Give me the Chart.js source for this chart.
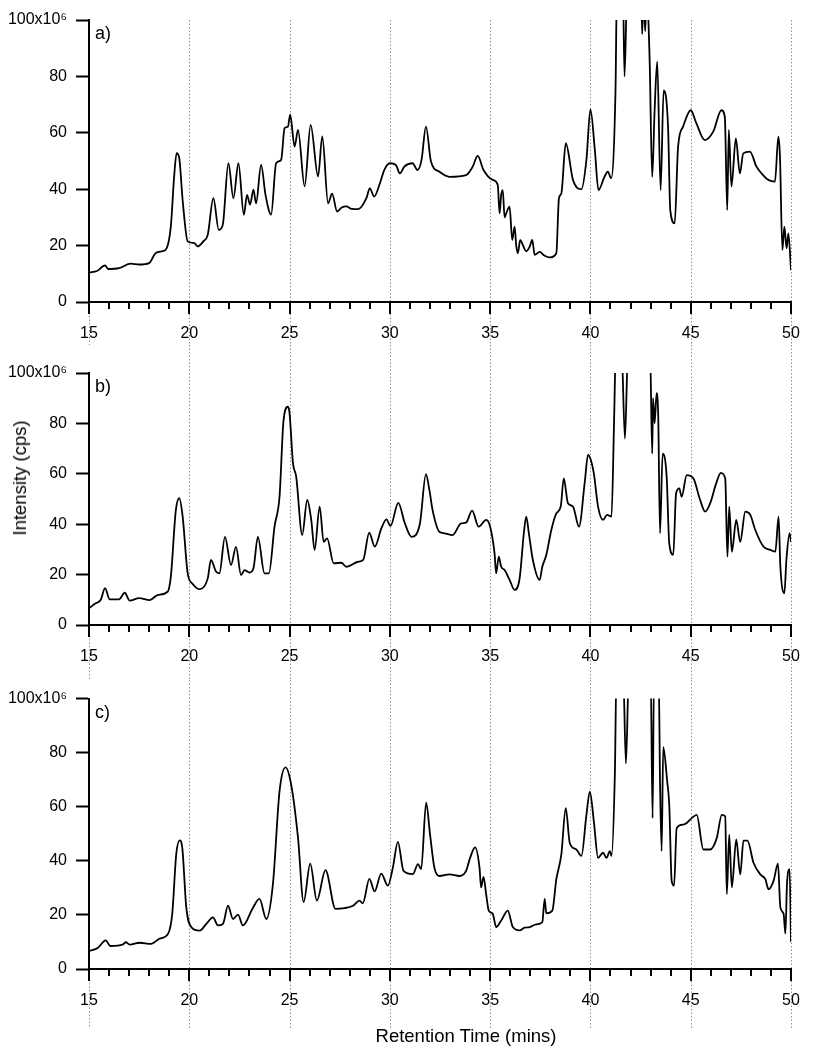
<!DOCTYPE html>
<html>
<head>
<meta charset="utf-8">
<script src="https://cdn.jsdelivr.net/npm/chart.js@4.4.0/dist/chart.umd.min.js"></script>
<style>
body { margin: 0; background: #fff; width: 829px; height: 1050px; position: relative; overflow: hidden;
       font-family: "Liberation Sans", Arial, sans-serif; color: #000; }
.panel { position: absolute; left: 0; width: 829px; }
.panel canvas { display: block; }
#ytitle { position: absolute; left: 20px; top: 478px; transform: translate(-50%, -50%) rotate(-90deg);
          white-space: nowrap; font-size: 18.5px; }
#xtitle { position: absolute; left: 466px; top: 1025px; transform: translateX(-50%);
          white-space: nowrap; font-size: 18.5px; }
</style>
</head>
<body>
<div class="panel" style="top:0px;height:345px"><canvas id="chartA" width="829" height="345"></canvas></div>
<div class="panel" style="top:345px;height:335px"><canvas id="chartB" width="829" height="335"></canvas></div>
<div class="panel" style="top:680px;height:370px"><canvas id="chartC" width="829" height="370"></canvas></div>
<div id="ytitle">Intensity (cps)</div>
<div id="xtitle">Retention Time (mins)</div>
<script>
// retention time (mins) and intensity (x10^6 cps)
// values of 110 are off the top of the axis (clipped at 100)
var timeA = [15.0,15.4,15.8,15.95,16.5,17.08,17.5,18.0,18.33,18.67,18.87,19.08,19.25,19.37,19.5,19.67,19.92,20.25,20.42,20.7,
  20.92,21.2,21.47,21.67,21.95,22.2,22.45,22.72,22.88,23.03,23.2,23.33,23.58,23.8,24.08,24.33,24.58,24.75,24.92,25.03,
  25.25,25.42,25.75,26.05,26.42,26.63,26.92,27.12,27.37,27.6,27.83,28.1,28.42,28.83,29.0,29.22,29.5,29.72,30.0,30.3,
  30.5,30.72,31.13,31.38,31.58,31.8,32.05,32.47,32.97,33.8,34.13,34.38,34.67,35.13,35.38,35.47,35.55,35.63,35.72,35.8,
  35.97,36.1,36.22,36.3,36.38,36.5,36.63,36.8,36.97,37.1,37.22,37.47,37.7,37.97,38.3,38.43,38.55,38.77,39.13,39.55,
  39.8,40.0,40.22,40.4,40.7,40.87,41.03,41.25,41.32,41.62,41.7,41.83,42.53,42.58,42.65,42.73,42.8,42.95,43.08,43.2,
  43.33,43.5,43.65,43.87,43.98,44.2,44.37,44.62,45.0,45.28,45.7,46.12,46.53,46.7,46.82,46.9,47.03,47.25,47.45,47.62,
  47.95,48.28,48.53,48.87,49.2,49.37,49.45,49.57,49.67,49.78,49.87,50.0];
var intensityA = [10.5,11.0,13.0,11.7,12.0,13.6,13.3,13.8,17.4,18.0,19.0,26.8,45,52.8,51,36,21.5,20.9,19.7,21.5,
  23.8,36.8,25.6,27.4,49.2,36.8,49.2,30.9,38,34.5,39.8,35,48.6,38,31,49.2,50.4,61.6,62.2,66.4,
  55.1,61,41,62.8,44.5,58.7,35,38.4,32.1,33.5,33.9,33.0,32.9,36.8,40.3,37.4,42,46.8,49.2,48.6,
  45.6,48,49.2,46.8,50.4,62.2,49.8,46.2,44.4,45,48,51.8,46.8,43.3,41.5,31.4,38,39.7,30,31.4,
  33.8,22,26.7,20,17.3,22,20.2,18,19.6,22,16.7,17.8,16.5,15.8,17.3,36.8,38.5,56.3,43.3,40,
  50.4,68.3,53.9,39.7,44.4,46.2,43.9,75,110,110,80,110,110,95,110,96,110,86.4,44.4,68,
  85.2,39.7,75,62.2,32.6,27.9,55,62.2,68,63.4,57.4,60.4,68,65.7,32.6,61,40.9,58,45.6,52.7,
  53.3,48,45.6,43.3,42.7,58.6,51.5,18.4,26.7,19,24.3,11.3];

var timeB = [15.0,15.33,15.58,15.8,16.03,16.5,16.78,17.03,17.5,18.03,18.42,18.92,19.08,19.33,19.5,19.67,19.92,20.17,20.53,20.92,
  21.08,21.33,21.5,21.78,22.08,22.33,22.58,22.75,23.0,23.2,23.42,23.75,23.97,24.25,24.5,24.7,24.92,25.0,25.17,25.33,
  25.63,25.88,26.08,26.25,26.5,26.7,26.87,27.2,27.58,27.83,28.42,28.67,28.97,29.25,29.58,29.83,30.03,30.42,30.75,31.08,
  31.5,31.8,31.97,32.13,32.47,32.72,33.13,33.55,33.8,34.1,34.43,34.8,35.0,35.22,35.3,35.43,35.55,35.72,35.97,36.22,
  36.47,36.68,36.8,36.93,37.13,37.47,37.6,37.8,38.05,38.3,38.52,38.67,38.88,39.13,39.43,39.72,39.88,40.02,40.17,40.38,
  40.63,40.83,41.05,41.18,41.27,41.55,41.72,41.88,42.97,43.08,43.12,43.2,43.3,43.38,43.47,43.6,43.8,43.93,44.13,44.27,
  44.43,44.55,44.8,45.13,45.47,45.72,45.97,46.27,46.5,46.72,46.83,46.92,47.05,47.27,47.47,47.72,47.97,48.22,48.63,48.97,
  49.22,49.38,49.47,49.67,49.77,49.93,50.0];
var intensityB = [6.6,8.6,9.9,14.6,10.2,10.2,12.8,9.7,10.7,9.9,11.9,13.2,19.2,45.6,50.3,43,20.5,16.3,14.2,18.5,
  25.8,21.2,20.5,35,23.8,31,19.8,21.8,20.8,22.5,35,20.5,20.5,39,51,81.3,86.6,84,64.2,58.9,
  35.7,49.6,41.7,29.8,47,33,34.4,24.5,24.7,23.1,25.1,25.8,36.6,31.1,38.4,41.9,39.3,48.5,40.3,35,
  40.3,59.9,53.6,45.6,37,36.4,35.7,40.3,40.6,45.4,39,41.7,39,28.4,20.5,27.1,23.1,21.8,17.9,13.9,
  18.5,36.4,43,36.4,25.8,17.9,23.1,27.8,37.7,44.3,47,58.2,48.3,47,39,56.9,67.5,65.5,60.2,47,
  41.7,43.7,43,81.3,110,110,74,110,110,68,90,80,92,83,36.4,68,58.9,32.4,27.8,52.2,
  54.2,50.9,59.5,58.2,49.6,45,48.3,56.2,60.4,58.2,27.1,47,29.1,41.7,33,45,43.7,37.7,31.1,29.8,
  29.1,43,23.1,12.6,25.8,36.4,33];

var timeC = [15.0,15.45,15.83,16.06,16.7,16.83,17.03,17.52,18.1,18.52,18.94,19.15,19.35,19.52,19.65,19.85,20.1,20.52,20.85,21.18,
  21.43,21.68,21.93,22.18,22.43,22.67,23.17,23.5,23.84,24.17,24.5,24.8,25.08,25.42,25.7,26.03,26.36,26.79,27.29,27.74,
  28.16,28.49,28.65,28.98,29.24,29.57,29.9,30.15,30.4,30.68,31.15,31.4,31.56,31.81,32.0,32.22,32.47,32.97,33.47,33.8,
  34.0,34.25,34.47,34.55,34.67,34.8,34.93,35.13,35.3,35.55,35.88,36.13,36.47,36.72,36.97,37.3,37.6,37.72,37.8,38.1,
  38.3,38.55,38.77,38.97,39.3,39.55,39.8,39.97,40.17,40.38,40.63,40.8,40.97,41.05,41.22,41.3,41.63,41.77,41.92,43.0,
  43.1,43.17,43.4,43.47,43.55,43.63,43.83,43.93,44.05,44.17,44.3,44.63,44.8,45.05,45.3,45.63,45.97,46.3,46.55,46.72,
  46.8,46.92,47.05,47.27,47.47,47.63,47.83,48.13,48.47,48.72,48.88,49.13,49.35,49.47,49.63,49.72,49.8,49.93,50.0];
var intensityC = [6.6,7.9,10.6,8.5,9.1,9.9,9.0,9.7,9.3,11.2,13,20.4,42.5,47.6,44.9,22.8,15.5,14.2,16.7,19.1,
  16.1,16.7,23.4,18.5,20.1,16.1,22.6,25.9,18.5,31.4,65.8,74.6,68.2,48.6,24.7,39,25.3,36.6,22.2,22.5,
  23.4,25.3,24.3,33.3,28.7,35.3,30.8,37.5,47,36.3,35.1,38.8,36.9,61.5,50,37.5,34.4,35,34.4,36.3,
  41.1,45,37.5,30.2,34.1,27.7,21.6,20.4,15.5,17.9,21.6,15.5,14.3,15.3,15.5,16.5,17.3,25.9,20.6,21.6,
  33.2,42.4,59.5,46.6,44.2,41.8,57,65.6,54.6,41.1,43,41.1,43.6,41.8,72.9,110,110,76,110,110,
  55.8,110,110,69.2,43.6,82,69.2,60.7,32.6,30.8,52.1,53.4,54,55.8,57,44.2,44.2,48.5,57,56.4,
  27.7,49.7,30.2,47.9,35,47.5,47.5,39.3,35,33.2,29.5,32.6,39,22.8,20.4,13.1,31.4,36.9,10];

var gridTimes = [15, 20, 25, 30, 35, 40, 45, 50];
var panelLetters = ['a)', 'b)', 'c)'];

var fontFamily = '"Liberation Sans", Arial, sans-serif';

function toPoints(times, values) {
  var pts = [];
  for (var i = 0; i < times.length; i++) {
    pts.push({ x: times[i], y: values[i] });
  }
  return pts;
}

// dotted guide lines running the full height, minor/major tick marks and the panel letter
var chromPlugin = {
  id: 'chrom',
  beforeDraw: function (chart, args, opts) {
    var ctx = chart.ctx, xs = chart.scales.x, area = chart.chartArea;
    ctx.save();
    ctx.strokeStyle = '#909090';
    ctx.lineWidth = 1;
    ctx.setLineDash([1.5, 2]);
    gridTimes.forEach(function (t) {
      var px = Math.round(xs.getPixelForValue(t)) + 0.5;
      var top = opts.gridTop === null ? 0 : opts.gridTop;
      if (t === 15) top = area.bottom;
      ctx.beginPath();
      ctx.moveTo(px, top);
      ctx.lineTo(px, opts.gridBottom);
      ctx.stroke();
    });
    ctx.restore();
  },
  afterDraw: function (chart, args, opts) {
    var ctx = chart.ctx, xs = chart.scales.x, area = chart.chartArea;
    ctx.save();
    ctx.strokeStyle = '#000';
    ctx.lineWidth = 2;
    for (var t = 15; t <= 50; t++) {
      var px = Math.round(xs.getPixelForValue(t));
      var len = (t % 5 === 0) ? 12 : 7;
      ctx.beginPath();
      ctx.moveTo(px, area.bottom);
      ctx.lineTo(px, area.bottom + len);
      ctx.stroke();
    }
    ctx.fillStyle = '#000';
    ctx.font = '18px ' + fontFamily;
    ctx.textBaseline = 'top';
    ctx.fillText(opts.letter, area.left + 6, area.top + 5);
    ctx.restore();
  }
};

function makePanel(id, times, values, letter, plotTop, plotBottom, gridTop, gridBottom) {
  var canvas = document.getElementById(id);
  var h = canvas.height;
  return new Chart(canvas, {
    type: 'line',
    data: {
      datasets: [{
        data: toPoints(times, values),
        borderColor: '#000',
        borderWidth: 1.8,
        pointRadius: 0,
        cubicInterpolationMode: 'monotone',
        fill: false,
        clip: 0
      }]
    },
    options: {
      responsive: false,
      animation: false,
      events: [],
      layout: { padding: { top: plotTop, right: 38, bottom: 0, left: 0 } },
      plugins: {
        legend: { display: false },
        tooltip: { enabled: false },
        chrom: { letter: letter, gridTop: gridTop, gridBottom: gridBottom }
      },
      scales: {
        x: {
          type: 'linear',
          min: 15,
          max: 50,
          afterFit: function (scale) { scale.height = h - plotBottom; },
          grid: { display: false, drawTicks: false },
          border: { display: true, color: '#000', width: 2 },
          ticks: {
            stepSize: 5,
            autoSkip: false,
            maxRotation: 0,
            padding: 22,
            color: '#000',
            font: { family: fontFamily, size: 16 }
          }
        },
        y: {
          min: 0,
          max: 100,
          afterFit: function (scale) { scale.width = 89; },
          grid: { display: true, drawOnChartArea: false, drawTicks: true, tickLength: 13,
                  tickColor: '#000', tickWidth: 2 },
          border: { display: true, color: '#000', width: 2 },
          ticks: {
            stepSize: 20,
            padding: 9,
            color: '#000',
            font: { family: fontFamily, size: 16 },
            callback: function (v) { return v === 100 ? '100x10\u2076' : v; }
          }
        }
      }
    },
    plugins: [chromPlugin]
  });
}

makePanel('chartA', timeA, intensityA, panelLetters[0], 20, 302, 20, 345);
makePanel('chartB', timeB, intensityB, panelLetters[1], 28, 280, null, 335);
makePanel('chartC', timeC, intensityC, panelLetters[2], 16, 289, null, 348);
</script>
</body>
</html>
